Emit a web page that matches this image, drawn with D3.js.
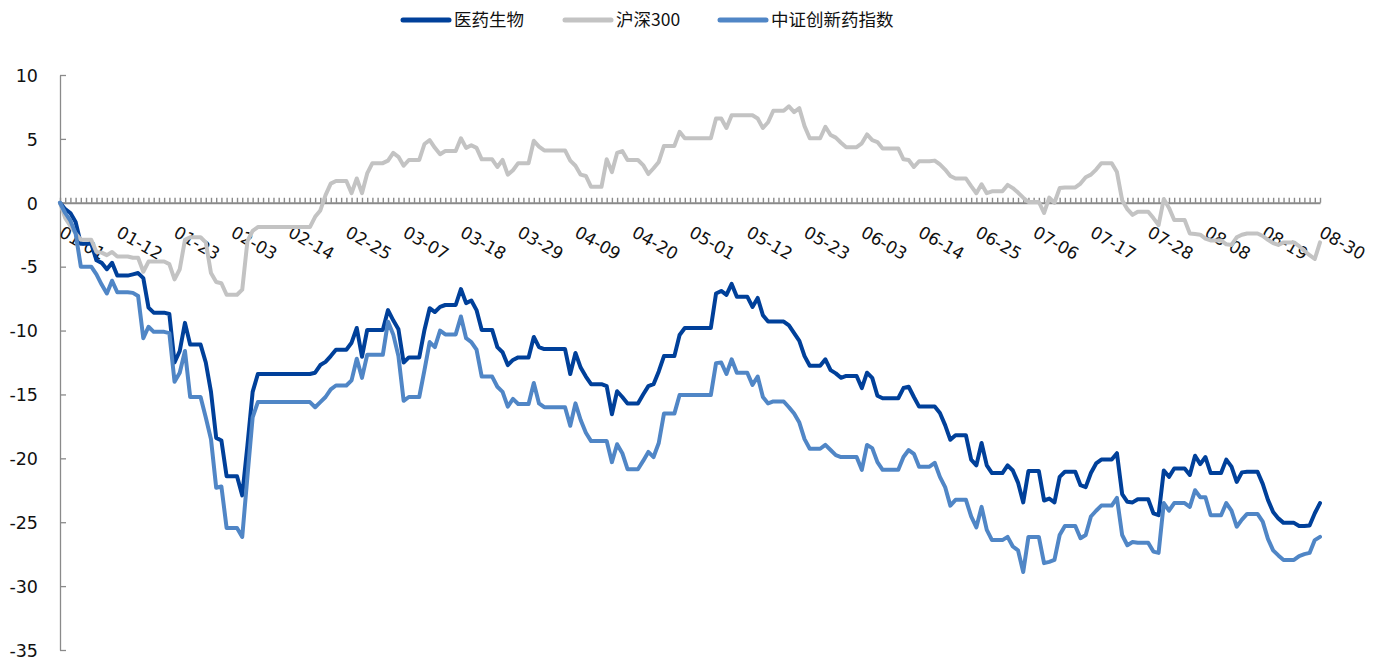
<!DOCTYPE html>
<html>
<head>
<meta charset="utf-8">
<script src="https://cdn.jsdelivr.net/npm/d3@7"></script>
<style>
    body { margin: 0; background: #ffffff; }
    svg { display: block; }
</style>
</head>
<body>
<svg id="svg" width="1381" height="658"></svg>
<script>
//Series names and colors
const SERIES_NAMES = ["医药生物", "沪深300", "中证创新药指数"];
const SERIES_COLORS = ["#00409a", "#c3c3c3", "#5086c6"];

//X tick labels (every 11 days)
const X_LABELS = ["01-01", "01-12", "01-23", "02-03", "02-14", "02-25", "03-07", "03-18", "03-29", "04-09",
    "04-20", "05-01", "05-12", "05-23", "06-03", "06-14", "06-25", "07-06", "07-17", "07-28",
    "08-08", "08-19", "08-30"];
const Y_TICKS = [10, 5, 0, -5, -10, -15, -20, -25, -30, -35];

//Daily values (%), one row per week starting Mon 01-01
const BIO = [
    0, -0.5, -0.8, -1.5, -3.2, -3.2, -3.2,
    -4.5, -4.7, -5.2, -4.7, -5.7, -5.7, -5.7,
    -5.6, -5.5, -5.9, -8.2, -8.6, -8.6, -8.6,
    -8.7, -12.5, -11.6, -9.4, -11.1, -11.1, -11.1,
    -12.5, -14.8, -18.4, -18.6, -21.4, -21.4, -21.4,
    -22.9, -19.0, -14.8, -13.4, -13.4, -13.4, -13.4,
    -13.4, -13.4, -13.4, -13.4, -13.4, -13.4, -13.4,
    -13.3, -12.7, -12.45, -12.0, -11.5, -11.5, -11.5,
    -10.95, -9.8, -12.05, -9.95, -9.95, -9.95, -9.95,
    -8.4, -9.2, -9.9, -12.5, -12.1, -12.1, -12.1,
    -9.95, -8.25, -8.55, -8.15, -8.0, -8.0, -8.0,
    -6.75, -7.85, -7.65, -8.4, -9.95, -9.95, -9.95,
    -11.3, -11.7, -12.7, -12.3, -12.1, -12.1, -12.1,
    -10.5, -11.3, -11.45, -11.45, -11.45, -11.45, -11.45,
    -13.4, -11.75, -12.9, -13.6, -14.2, -14.2, -14.2,
    -14.35, -16.55, -14.75, -15.2, -15.7, -15.7, -15.7,
    -15.0, -14.35, -14.2, -13.2, -12.0, -12.0, -12.0,
    -10.35, -9.8, -9.8, -9.8, -9.8, -9.8, -9.8,
    -7.1, -6.9, -7.2, -6.35, -7.35, -7.35, -7.35,
    -8.15, -7.45, -8.8, -9.3, -9.3, -9.3, -9.3,
    -9.6, -10.2, -10.8, -12.0, -12.75, -12.75, -12.75,
    -12.25, -13.1, -13.35, -13.7, -13.55, -13.55, -13.55,
    -14.5, -13.3, -13.7, -15.1, -15.3, -15.3, -15.3,
    -15.3, -14.5, -14.4, -15.2, -15.95, -15.95, -15.95,
    -15.95, -16.45, -17.4, -18.55, -18.2, -18.2, -18.2,
    -20.1, -20.55, -18.8, -20.55, -21.15, -21.15, -21.15,
    -20.55, -20.95, -21.9, -23.45, -21.0, -21.0, -21.0,
    -23.3, -23.15, -23.45, -21.45, -21.05, -21.05, -21.05,
    -22.1, -22.25, -21.15, -20.4, -20.1, -20.1, -20.1,
    -19.6, -22.8, -23.4, -23.45, -23.2, -23.2, -23.2,
    -24.3, -24.45, -20.95, -21.45, -20.8, -20.8, -20.8,
    -21.3, -19.8, -20.45, -19.9, -21.15, -21.15, -21.15,
    -20.1, -20.65, -21.85, -21.1, -21.05, -21.05, -21.05,
    -22.0, -23.25, -24.2, -24.7, -25.05, -25.05, -25.05,
    -25.3, -25.3, -25.25, -24.3, -23.5
];

const CSI300 = [
    0, -1.2, -1.8, -2.4, -2.9, -2.9, -2.9,
    -3.85, -3.9, -4.1, -3.85, -4.2, -4.2, -4.2,
    -4.3, -4.3, -5.4, -4.6, -4.6, -4.6, -4.6,
    -4.8, -6.0, -5.2, -2.9, -2.7, -2.7, -2.7,
    -3.1, -5.5, -6.2, -6.3, -7.2, -7.2, -7.2,
    -6.8, -3.0, -2.2, -1.9, -1.9, -1.9, -1.9,
    -1.9, -1.9, -1.9, -1.9, -1.9, -1.9, -1.9,
    -1.1, -0.6, 0.6, 1.5, 1.7, 1.7, 1.7,
    0.75, 1.9, 0.75, 2.3, 3.1, 3.1, 3.1,
    3.3, 3.9, 3.6, 2.9, 3.35, 3.35, 3.35,
    4.6, 4.9, 4.3, 3.8, 4.05, 4.05, 4.05,
    5.05, 4.3, 4.5, 4.3, 3.4, 3.4, 3.4,
    2.8, 3.35, 2.2, 2.55, 3.1, 3.1, 3.1,
    4.85, 4.4, 4.1, 4.1, 4.1, 4.1, 4.1,
    3.3, 2.9, 2.2, 2.1, 1.25, 1.25, 1.25,
    3.4, 2.4, 3.9, 4.05, 3.35, 3.35, 3.35,
    2.95, 2.25, 2.7, 3.2, 4.45, 4.45, 4.45,
    5.55, 5.05, 5.05, 5.05, 5.05, 5.05, 5.05,
    6.6, 6.6, 5.85, 6.85, 6.85, 6.85, 6.85,
    6.85, 6.6, 5.85, 6.3, 7.2, 7.2, 7.2,
    7.55, 7.1, 7.4, 6.0, 5.05, 5.05, 5.05,
    5.95, 5.3, 5.1, 4.7, 4.35, 4.35, 4.35,
    4.65, 5.35, 4.9, 4.75, 4.25, 4.25, 4.25,
    4.25, 3.4, 3.35, 2.8, 3.25, 3.25, 3.25,
    3.3, 3.0, 2.6, 2.1, 1.9, 1.9, 1.9,
    1.3, 0.75, 1.45, 0.75, 0.9, 0.9, 0.9,
    1.4, 1.15, 0.8, 0.4, 0.06, 0.06, 0.06,
    -0.8, 0.4, 0.0, 1.15, 1.2, 1.2, 1.2,
    1.5, 2.0, 2.2, 2.6, 3.1, 3.1, 3.1,
    2.4, 0.2, -0.5, -0.95, -0.7, -0.7, -0.7,
    -1.2, -1.75, 0.3, -0.4, -1.35, -1.35, -1.35,
    -2.4, -2.45, -2.5, -2.8, -2.95, -2.95, -2.95,
    -3.25, -3.3, -2.7, -2.5, -2.4, -2.4, -2.4,
    -2.6, -2.9, -3.15, -3.3, -3.1, -3.1, -3.1,
    -3.4, -3.75, -4.1, -4.4, -3.1
];

const INNOV = [
    0, -0.8, -1.4, -2.4, -5.0, -5.0, -5.0,
    -5.6, -6.4, -7.1, -6.1, -7.0, -7.0, -7.0,
    -7.05, -7.3, -10.6, -9.7, -10.1, -10.1, -10.1,
    -10.2, -14.0, -13.3, -11.6, -15.2, -15.2, -15.2,
    -16.8, -18.5, -22.3, -22.2, -25.45, -25.45, -25.45,
    -26.15, -21.4, -16.8, -15.6, -15.6, -15.6, -15.6,
    -15.6, -15.6, -15.6, -15.6, -15.6, -15.6, -15.6,
    -16.0, -15.6, -15.2, -14.6, -14.3, -14.3, -14.3,
    -13.9, -12.2, -13.7, -11.9, -11.9, -11.9, -11.9,
    -9.3, -10.3, -12.0, -15.5, -15.2, -15.2, -15.2,
    -13.1, -10.9, -11.3, -10.0, -10.3, -10.3, -10.3,
    -8.9, -10.6, -10.9, -11.5, -13.6, -13.6, -13.6,
    -14.4, -14.8, -15.95, -15.35, -15.75, -15.75, -15.75,
    -14.1, -15.7, -16.0, -16.0, -16.0, -16.0, -16.0,
    -17.45, -15.7, -17.0, -18.0, -18.65, -18.65, -18.65,
    -18.65, -20.3, -18.9, -19.6, -20.85, -20.85, -20.85,
    -20.2, -19.5, -19.9, -18.8, -16.5, -16.5, -16.5,
    -15.05, -15.05, -15.05, -15.05, -15.05, -15.05, -15.05,
    -12.55, -12.5, -13.4, -12.25, -13.3, -13.3, -13.3,
    -14.25, -13.6, -15.2, -15.7, -15.55, -15.55, -15.55,
    -16.0, -16.5, -17.2, -18.5, -19.25, -19.25, -19.25,
    -18.95, -19.35, -19.75, -19.9, -19.9, -19.9, -19.9,
    -20.9, -18.95, -19.2, -20.3, -20.9, -20.9, -20.9,
    -20.9, -19.9, -19.35, -19.65, -20.65, -20.65, -20.65,
    -20.35, -21.45, -22.25, -23.7, -23.25, -23.25, -23.25,
    -24.55, -25.4, -23.8, -25.6, -26.4, -26.4, -26.4,
    -26.15, -26.9, -27.2, -28.9, -26.15, -26.15, -26.15,
    -28.2, -28.1, -27.95, -26.0, -25.3, -25.3, -25.3,
    -26.25, -26.0, -24.55, -24.1, -23.7, -23.7, -23.7,
    -23.1, -26.0, -26.8, -26.55, -26.6, -26.6, -26.6,
    -27.3, -27.4, -23.5, -24.1, -23.5, -23.5, -23.5,
    -23.8, -22.5, -23.05, -23.05, -24.45, -24.45, -24.45,
    -23.5, -24.1, -25.35, -24.8, -24.35, -24.35, -24.35,
    -24.95, -26.3, -27.2, -27.6, -27.95, -27.95, -27.95,
    -27.65, -27.5, -27.4, -26.4, -26.15
];

const SERIES = [BIO, CSI300, INNOV];

//Layout
const SVG = d3.select("#svg");
const PLOT_LEFT = 60;
const PLOT_RIGHT = 1320;
const PLOT_TOP = 75;
const PLOT_BOTTOM = 650;
const AXIS_COLOR = "#8a8a8a";
const NUM_FONT = "'DejaVu Sans', Verdana, sans-serif";
const CJK_FONT = "'Noto Sans CJK SC', sans-serif";

//Category axis: every calendar day 01-01 .. 08-30
const FORMAT = d3.timeFormat("%m-%d");
const DATES = d3.timeDay.range(new Date(2024, 0, 1), new Date(2024, 7, 31)).map(FORMAT);

buildChart();

function buildChart()
{
    //Scales
    let x_scale = d3.scalePoint().domain(DATES).range([PLOT_LEFT, PLOT_RIGHT]);
    let y_scale = d3.scaleLinear().domain([-35, 10]).range([PLOT_BOTTOM, PLOT_TOP]);

    //Y Axis (plain hyphen for negatives)
    let y_axis = d3.axisLeft(y_scale)
        .tickValues(Y_TICKS)
        .tickSizeInner(-6)
        .tickSizeOuter(0)
        .tickPadding(22)
        .tickFormat(function(d) { return String(d); });

    let y_g = SVG.append("g")
        .attr("transform", "translate(" + PLOT_LEFT + ",0)")
        .call(y_axis);
    y_g.select(".domain").attr("stroke", AXIS_COLOR).attr("stroke-width", 1.3);
    y_g.selectAll(".tick line").attr("stroke", AXIS_COLOR).attr("stroke-width", 1.3);
    y_g.selectAll(".tick text")
        .attr("fill", "#111")
        .attr("font-family", NUM_FONT)
        .attr("font-size", 17.5)
        .attr("dy", "0.36em");

    //X Axis at zero (tick for every day, no labels)
    let x_axis = d3.axisTop(x_scale)
        .tickValues(DATES)
        .tickSizeInner(5)
        .tickSizeOuter(0)
        .tickFormat("");

    let x_g = SVG.append("g")
        .attr("transform", "translate(0," + y_scale(0) + ")")
        .call(x_axis);
    x_g.select(".domain").attr("stroke", AXIS_COLOR).attr("stroke-width", 2);
    x_g.selectAll(".tick line").attr("stroke", AXIS_COLOR).attr("stroke-width", 1.4);

    //X Labels (rotated)
    SVG.append("g")
        .selectAll("text")
        .data(X_LABELS)
        .enter().append("text")
        .attr("transform", function(d) { return "translate(" + (x_scale(d) - 2) + "," + (y_scale(0) + 33) + ") rotate(30)"; })
        .attr("font-family", NUM_FONT)
        .attr("font-size", 17)
        .attr("fill", "#111")
        .text(function(d) { return d; });

    //Lines
    let line = d3.line()
        .x(function(d, i) { return x_scale(DATES[i]); })
        .y(function(d) { return y_scale(d); });

    SVG.append("g")
        .selectAll("path")
        .data(SERIES)
        .enter().append("path")
        .attr("d", line)
        .attr("fill", "none")
        .attr("stroke", function(d, i) { return SERIES_COLORS[i]; })
        .attr("stroke-width", 4)
        .attr("stroke-linejoin", "round")
        .attr("stroke-linecap", "round");

    //Legend
    const LEGEND_X = [403, 565, 720];
    let legend = SVG.append("g")
        .selectAll("g")
        .data(SERIES_NAMES)
        .enter().append("g")
        .attr("transform", function(d, i) { return "translate(" + LEGEND_X[i] + ",20)"; });

    legend.append("line")
        .attr("x1", 0).attr("x2", 46)
        .attr("y1", 0).attr("y2", 0)
        .attr("stroke", function(d, i) { return SERIES_COLORS[i]; })
        .attr("stroke-width", 5)
        .attr("stroke-linecap", "round");

    legend.append("text")
        .attr("x", 51)
        .attr("dy", "0.35em")
        .attr("font-family", CJK_FONT)
        .attr("font-size", 17.5)
        .attr("fill", "#111")
        .text(function(d) { return d; });
}
</script>
</body>
</html>
